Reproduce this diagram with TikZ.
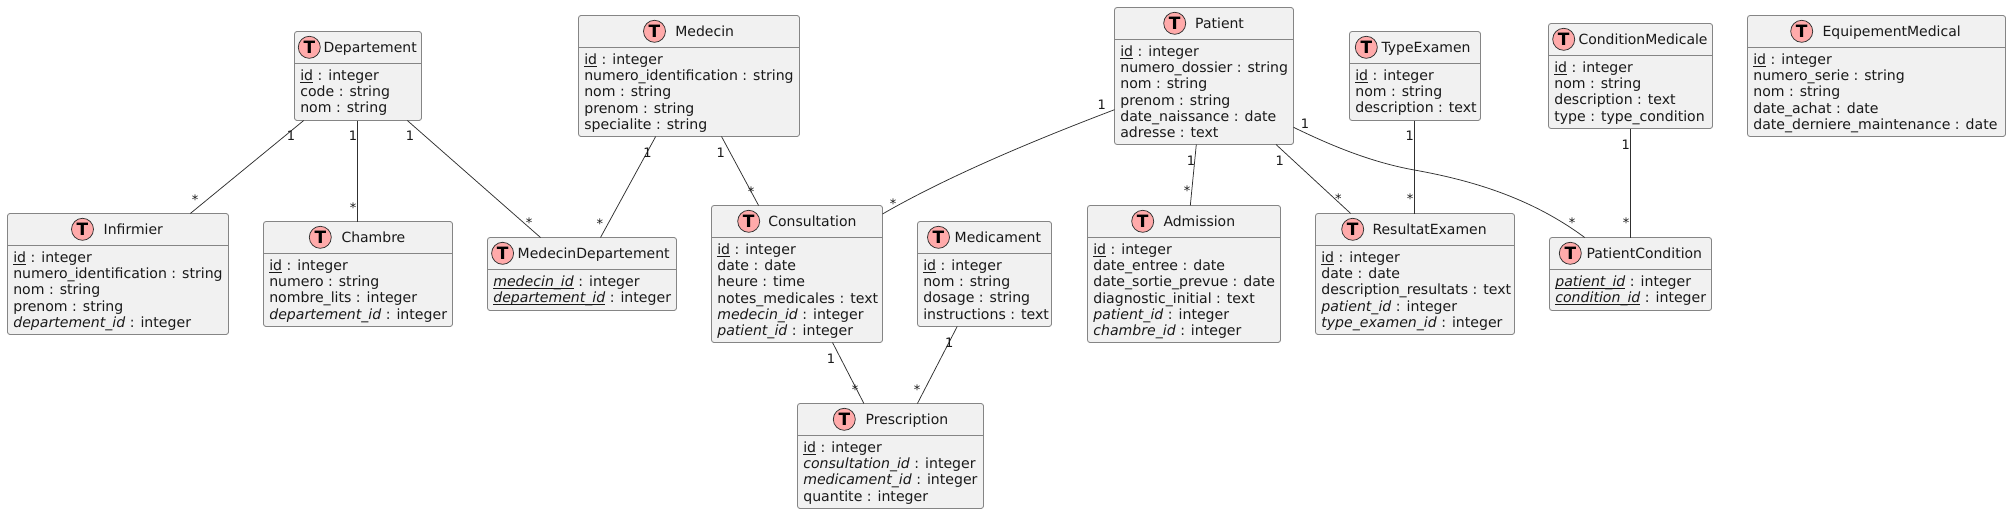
\documentclass[tikz,border=0pt]{standalone}
\usepackage{fontspec}
\setmainfont{DejaVu Sans}
\definecolor{boxfill}{HTML}{F1F1F1}
\definecolor{boxline}{HTML}{858585}
\definecolor{linkc}{HTML}{303030}
\definecolor{spotc}{HTML}{FFAAAA}
\newcommand{\ul}[1]{\leavevmode\setbox0\hbox{#1}\rlap{\rule[-2.4pt]{\wd0}{0.9pt}}\box0\relax}
\newcommand{\us}{\_}
\newcommand{\fk}[1]{\textit{#1}}
\tikzset{
  tblbox/.style={draw=boxline,fill=boxfill,line width=0.85pt,rounded corners=2.5pt,inner sep=0pt,outer sep=0pt,anchor=north west},
  sepline/.style={draw=boxline,line width=0.85pt},
  spotc/.style={circle,draw=linkc,fill=spotc,line width=0.75pt,minimum size=22pt,inner sep=0pt,outer sep=0pt},
  spotletter/.style={font=\fontsize{17}{18}\selectfont\bfseries,text=black,inner sep=0pt},
  titletext/.style={anchor=base west,inner sep=0pt,text=black!90,font=\fontsize{14}{16}\selectfont},
  bodytext/.style={anchor=base west,inner sep=0pt,text=black!90,font=\fontsize{14.1}{16}\selectfont},
  link/.style={draw=linkc,line width=0.75pt},
  cardtext/.style={anchor=base,inner sep=0pt,text=black!90,font=\fontsize{13}{15}\selectfont},
}
\makeatletter
\newcommand{\tb}[9]{%
  \def\tb@n{#1}\def\tb@xa{#2}\def\tb@ya{#3}\def\tb@xb{#4}\def\tb@yb{#5}\def\tb@s{#6}\def\tb@c{#7}\def\tb@t{#8}\def\tb@ti{#9}%
  \tb@cont}
\newcommand{\tb@cont}[1]{%
  \pgfmathsetlengthmacro{\tb@w}{\tb@xb-\tb@xa}%
  \pgfmathsetlengthmacro{\tb@h}{\tb@yb-\tb@ya}%
  \node[tblbox,minimum width=\tb@w,minimum height=\tb@h] (\tb@n) at (\tb@xa,\tb@ya) {};
  \draw[sepline] (\tb@n.west |- 0,\tb@s) -- (\tb@n.east |- 0,\tb@s);
  \pgfmathsetmacro{\tb@cy}{\tb@s-16.2}%
  \pgfmathsetmacro{\tb@by}{\tb@s-11.5}%
  \node[spotc] (\tb@n-spot) at (\tb@c,\tb@cy) {};
  \node[spotletter] (\tb@n-T) at (\tb@n-spot) {T};
  \node[titletext] (\tb@n-title) at (\tb@t,\tb@by) {\tb@ti};
  \pgfmathsetmacro{\tb@x}{\tb@xa+5.6}%
  \foreach \tx [count=\i] in {#1} {
    \pgfmathsetmacro{\ly}{\tb@s+16.6+(\i-1)*16.35}
    \node[bodytext] (\tb@n-\i) at (\tb@x,\ly) {\tx};
  }
}
\makeatother
\newcommand{\lab}[4]{\node[cardtext] (#1) at (#2,#3) {#4};}
\begin{document}
\begin{tikzpicture}[x=1pt,y=-1pt]
\useasboundingbox (0,0) rectangle (2011,514);
\fill[white] (0,0) rectangle (2011,514);

\tb{dep}{294.5}{31.5}{421.5}{120.5}{63.5}{309.3}{323.3}{Departement}{\ul{id} : integer,code : string,nom : string}
\tb{inf}{7.5}{213.5}{228.5}{334.5}{245.5}{82.5}{103.5}{Infirmier}{\ul{id} : integer,numero\us identification : string,nom : string,prenom : string,\fk{departement\us id} : integer}
\tb{cha}{263.5}{221.5}{452.5}{326.5}{253.5}{320.3}{341.3}{Chambre}{\ul{id} : integer,numero : string,nombre\us lits : integer,\fk{departement\us id} : integer}
\tb{med}{578.5}{15.5}{799.5}{136.5}{47.5}{654.5}{675.2}{Medecin}{\ul{id} : integer,numero\us identification : string,nom : string,prenom : string,specialite : string}
\tb{mdp}{487.5}{237.5}{676.5}{310.5}{269.5}{502.6}{517.5}{MedecinDepartement}{\ul{\fk{medecin\us id}} : integer,\ul{\fk{departement\us id}} : integer}
\tb{con}{711.5}{205.5}{882.5}{342.5}{237.5}{748.7}{768.2}{Consultation}{\ul{id} : integer,date : date,heure : time,notes\us medicales : text,\fk{medecin\us id} : integer,\fk{patient\us id} : integer}
\tb{mdc}{917.5}{221.5}{1051.5}{326.5}{253.5}{938.5}{954.5}{Medicament}{\ul{id} : integer,nom : string,dosage : string,instructions : text}
\tb{pre}{797.5}{403.5}{983.5}{508.5}{435.5}{844.3}{865.4}{Prescription}{\ul{id} : integer,\fk{consultation\us id} : integer,\fk{medicament\us id} : integer,quantite : integer}
\tb{pat}{1114.5}{7.5}{1293.5}{144.5}{39.5}{1174.7}{1195}{Patient}{\ul{id} : integer,numero\us dossier : string,nom : string,prenom : string,date\us naissance : date,adresse : text}
\tb{typ}{1349.5}{31.5}{1480.5}{120.5}{63.5}{1366.3}{1381.3}{TypeExamen}{\ul{id} : integer,nom : string,description : text}
\tb{adm}{1087.5}{205.5}{1280.5}{342.5}{237.5}{1142.7}{1163.3}{Admission}{\ul{id} : integer,date\us entree : date,date\us sortie\us prevue : date,diagnostic\us initial : text,\fk{patient\us id} : integer,\fk{chambre\us id} : integer}
\tb{res}{1315.5}{213.5}{1514.5}{334.5}{245.5}{1352.7}{1372.3}{ResultatExamen}{\ul{id} : integer,date : date,description\us resultats : text,\fk{patient\us id} : integer,\fk{type\us examen\us id} : integer}
\tb{cnd}{1548.5}{23.5}{1712.5}{128.5}{55.5}{1563.7}{1578.3}{ConditionMedicale}{\ul{id} : integer,nom : string,description : text,type : type\us condition}
\tb{pcd}{1549.5}{237.5}{1711.5}{310.5}{269.5}{1570.3}{1586.3}{PatientCondition}{\ul{\fk{patient\us id}} : integer,\ul{\fk{condition\us id}} : integer}
\tb{eqp}{1747.5}{15.5}{2005.5}{136.5}{47.5}{1801.7}{1822.3}{EquipementMedical}{\ul{id} : integer,numero\us serie : string,nom : string,date\us achat : date,date\us derniere\us maintenance : date}

\draw[link] ([xshift=9.2pt]dep.south west) -- ([xshift=182.8pt]inf.north west);
\draw[link] ([xshift=63.2pt]dep.south west) -- ([xshift=94.2pt]cha.north west);
\draw[link] ([xshift=112.8pt]dep.south west) -- ([xshift=53pt]mdp.north west);
\draw[link] ([xshift=77.2pt]med.south west) -- ([xshift=113pt]mdp.north west);
\draw[link] ([xshift=143pt]med.south west) -- ([xshift=47.1pt]con.north west);
\draw[link] ([yshift=-102.2pt]pat.north west) .. controls (1040,138) and (950,175) .. ([yshift=-8.5pt]con.north east);
\draw[link] ([xshift=121pt]con.south west) -- ([xshift=66.4pt]pre.north west);
\draw[link] ([xshift=39.7pt]mdc.south west) -- ([xshift=119.9pt]pre.north west);
\draw[link] ([xshift=81.8pt]pat.south west) -- ([xshift=102.8pt]adm.north west);
\draw[link] ([xshift=161.5pt]pat.south west) -- ([xshift=35.2pt]res.north west);
\draw[link] ([yshift=-119.8pt]pat.north east) .. controls (1330,145) and (1370,162) .. (1414.3,170) .. controls (1470,180) and (1530,197) .. ([xshift=35.2pt]pcd.north west);
\draw[link] ([xshift=64.8pt]typ.south west) -- ([xshift=98.8pt]res.north west);
\draw[link] ([xshift=81.8pt]cnd.south west) -- ([xshift=80.8pt]pcd.north west);

\lab{a1}{291}{140.5}{1}
\lab{a2}{353}{140.5}{1}
\lab{a3}{410}{140.5}{1}
\lab{a4}{647.6}{157.5}{1}
\lab{a5}{720.7}{157.5}{1}
\lab{a6}{831}{363.5}{1}
\lab{a7}{949.2}{347}{1}
\lab{a8}{1101.7}{109.5}{1}
\lab{a9}{1305}{128.5}{1}
\lab{a10}{1191}{165.5}{1}
\lab{a11}{1279.7}{165.5}{1}
\lab{a12}{1409.7}{140.5}{1}
\lab{a13}{1625.7}{149.5}{1}
\lab{b1}{195}{204.5}{*}
\lab{b2}{353}{212.5}{*}
\lab{b3}{529}{227.5}{*}
\lab{b4}{599.8}{228.5}{*}
\lab{b5}{751}{196}{*}
\lab{b6}{893}{208}{*}
\lab{b7}{855}{394}{*}
\lab{b8}{917}{394}{*}
\lab{b9}{1187}{195.5}{*}
\lab{b10}{1338.3}{203.5}{*}
\lab{b11}{1410}{203.5}{*}
\lab{b12}{1572}{227.5}{*}
\lab{b13}{1626}{227.5}{*}
\end{tikzpicture}
\end{document}
